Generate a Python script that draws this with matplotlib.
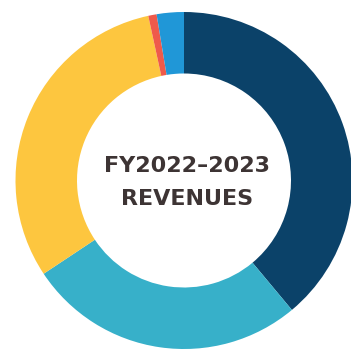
import matplotlib.pyplot as plt

# revenue shares, clockwise from 12 o'clock
shares = [38.9, 26.7, 30.9, 0.8, 2.6]
colors = ['#0b4269', '#37b0c9', '#fdc63f', '#ef5a4b', '#2097d7']
title_lines = ['FY2022\u20132023', 'REVENUES']

fig = plt.figure(figsize=(3.51, 3.49), dpi=100)
ax = fig.add_axes([0, 0, 1, 1])

ax.pie(shares, colors=colors, startangle=90, counterclock=False,
       center=(184, 168.5), radius=168.5, frame=True,
       wedgeprops=dict(width=61.5, linewidth=0))
ax.set_xlim(0, 351)
ax.set_ylim(0, 349)
ax.set_aspect('equal')
ax.axis('off')

ax.text(187, 183.5, title_lines[0], ha='center', va='center',
        fontsize=16, fontweight='bold', color='#3d3434', family='DejaVu Sans')
ax.text(187, 150, title_lines[1], ha='center', va='center',
        fontsize=16, fontweight='bold', color='#3d3434', family='DejaVu Sans')

fig.savefig('out.png', dpi=100)
